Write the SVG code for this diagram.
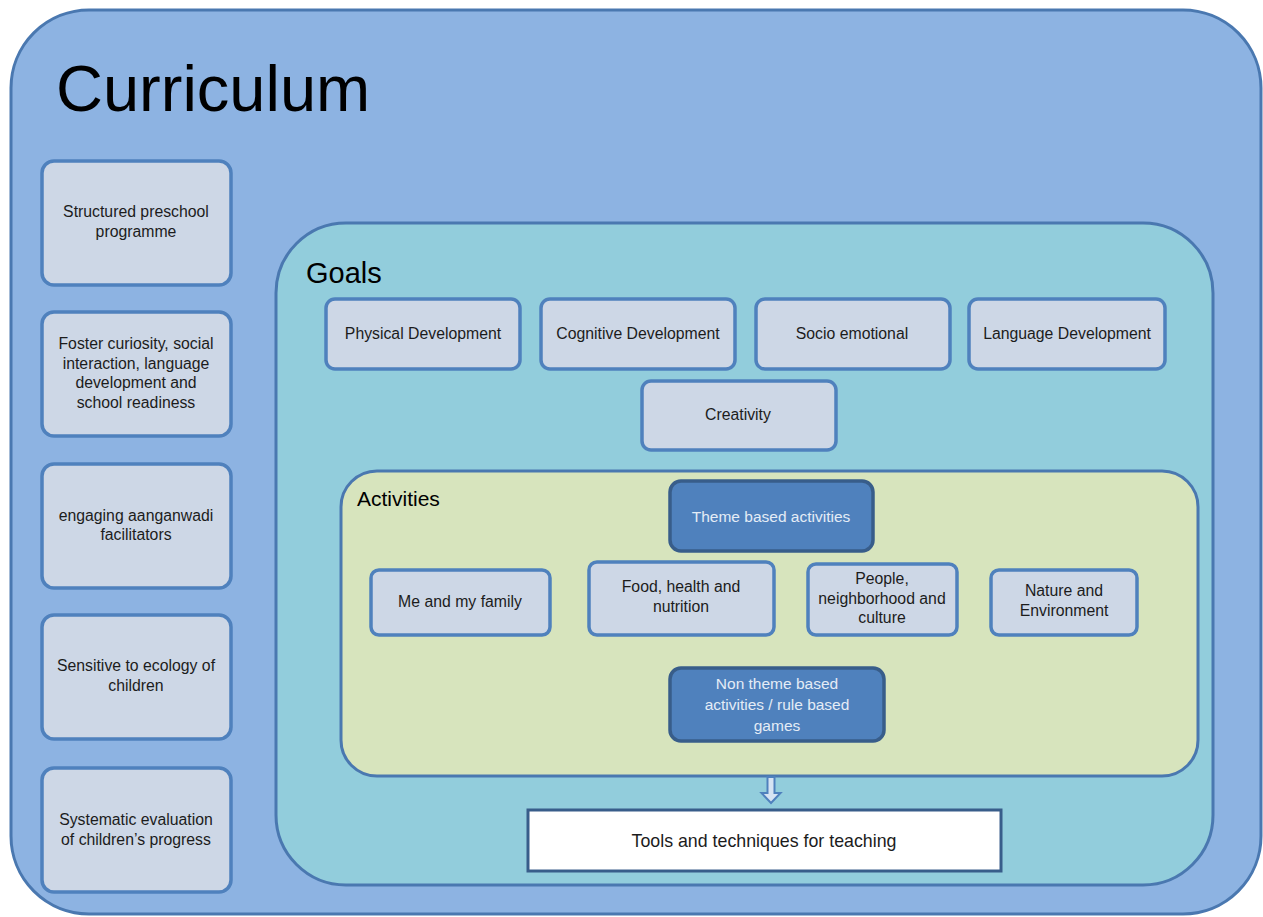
<svg xmlns="http://www.w3.org/2000/svg" width="1263" height="917" viewBox="0 0 1263 917">
<style>
.t{font-family:"Liberation Sans",Arial,sans-serif;fill:#1c1c1c;text-anchor:middle;font-size:15.8px}
.tl{font-family:"Liberation Sans",Arial,sans-serif;fill:#1c1c1c;text-anchor:middle;font-size:17.8px}
.tw{font-family:"Liberation Sans",Arial,sans-serif;fill:#e4ecf6;text-anchor:middle;font-size:15.5px}
.h{font-family:"Liberation Sans",Arial,sans-serif;fill:#000}
.box{fill:#cdd7e6;stroke:#4f81bd;stroke-width:3.5}
.dbox{fill:#4f81bd;stroke:#385d8a;stroke-width:3.5}
</style>
<rect width="1263" height="917" fill="#ffffff"/>
<g id="curriculum">
<rect x="11" y="10" width="1250" height="904" rx="78" ry="78" fill="#8db3e2" stroke="#4a78b0" stroke-width="3"/>
<text class="h" x="56" y="111" font-size="65">Curriculum</text>
</g>
<g id="goals">
<rect x="276" y="223" width="937" height="662" rx="70" ry="70" fill="#92cddc" stroke="#4a78b0" stroke-width="3"/>
<text class="h" x="306" y="283" font-size="29">Goals</text>
</g>
<g id="activities">
<rect x="341" y="471" width="857" height="305" rx="36" ry="36" fill="#d7e4bd" stroke="#4a78b0" stroke-width="3"/>
<text class="h" x="357" y="506" font-size="21">Activities</text>
</g>
<g id="structured"><rect class="box" x="42" y="161" width="189" height="124" rx="12"/><text class="t" x="136" y="217">Structured preschool</text><text class="t" x="136" y="237">programme</text></g>
<g id="foster"><rect class="box" x="42" y="312" width="189" height="124" rx="12"/><text class="t" x="136" y="349">Foster curiosity, social</text><text class="t" x="136" y="369">interaction, language</text><text class="t" x="136" y="388">development and</text><text class="t" x="136" y="408">school readiness</text></g>
<g id="engaging"><rect class="box" x="42" y="464" width="189" height="124" rx="12"/><text class="t" x="136" y="521">engaging aanganwadi</text><text class="t" x="136" y="540">facilitators</text></g>
<g id="sensitive"><rect class="box" x="42" y="615" width="189" height="124" rx="12"/><text class="t" x="136" y="671">Sensitive to ecology of</text><text class="t" x="136" y="691">children</text></g>
<g id="systematic"><rect class="box" x="42" y="768" width="189" height="124" rx="12"/><text class="t" x="136" y="825">Systematic evaluation</text><text class="t" x="136" y="845">of children’s progress</text></g>
<g id="physical"><rect class="box" x="326" y="299" width="194" height="70" rx="9"/><text class="t" x="423" y="339">Physical Development</text></g>
<g id="cognitive"><rect class="box" x="541" y="299" width="194" height="70" rx="9"/><text class="t" x="638" y="339">Cognitive Development</text></g>
<g id="socio"><rect class="box" x="756" y="299" width="194" height="70" rx="9"/><text class="t" x="852" y="339">Socio emotional</text></g>
<g id="language"><rect class="box" x="969" y="299" width="196" height="70" rx="9"/><text class="t" x="1067" y="339">Language Development</text></g>
<g id="creativity"><rect class="box" x="642" y="381" width="194" height="69" rx="9"/><text class="t" x="738" y="420">Creativity</text></g>
<g id="theme"><rect class="dbox" x="670" y="481" width="203" height="70" rx="11"/><text class="tw" x="771" y="522">Theme based activities</text></g>
<g id="me"><rect class="box" x="371" y="570" width="179" height="65" rx="8"/><text class="t" x="460" y="607">Me and my family</text></g>
<g id="food"><rect class="box" x="589" y="562" width="185" height="73" rx="8"/><text class="t" x="681" y="592">Food, health and</text><text class="t" x="681" y="612">nutrition</text></g>
<g id="people"><rect class="box" x="808" y="564" width="149" height="71" rx="8"/><text class="t" x="882" y="584">People,</text><text class="t" x="882" y="604">neighborhood and</text><text class="t" x="882" y="623">culture</text></g>
<g id="nature"><rect class="box" x="991" y="570" width="146" height="65" rx="8"/><text class="t" x="1064" y="596">Nature and</text><text class="t" x="1064" y="616">Environment</text></g>
<g id="nontheme"><rect class="dbox" x="670" y="668" width="214" height="73" rx="11"/><text class="tw" x="777" y="689">Non theme  based</text><text class="tw" x="777" y="710">activities / rule based</text><text class="tw" x="777" y="731">games</text></g>
<g id="connectors">
<path d="M767.5 777 L774.5 777 L774.5 793 L780.5 793 L771 803 L761.5 793 L767.5 793 Z" fill="#d6e3f3" stroke="#4f81bd" stroke-width="2" stroke-linejoin="miter"/>
</g>
<g id="tools"><rect x="528" y="810" width="473" height="61" fill="#ffffff" stroke="#385d8a" stroke-width="3"/><text class="tl" x="764" y="847">Tools and techniques for teaching</text></g>
</svg>
